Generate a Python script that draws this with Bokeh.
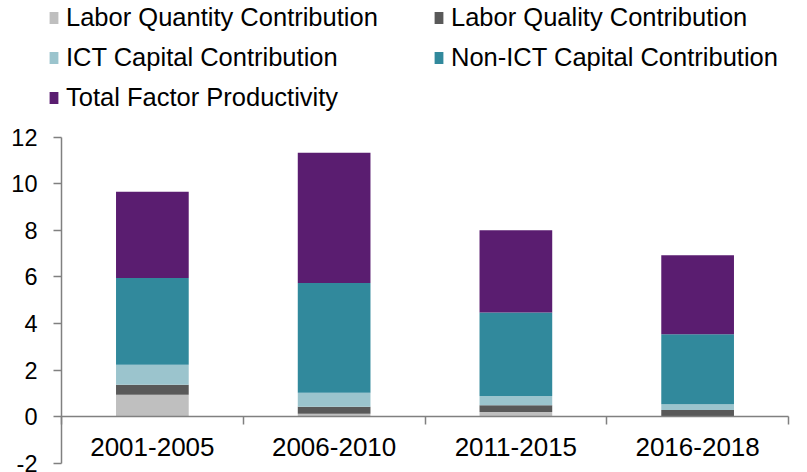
from bokeh.plotting import figure
from bokeh.models import (ColumnDataSource, Legend, LegendItem, LinearAxis,
                          Range1d, FixedTicker)
from bokeh.embed import file_html
from bokeh.resources import INLINE

periods = ["2001-2005", "2006-2010", "2011-2015", "2016-2018"]
labor_quantity = [0.94, 0.13, 0.20, 0.02]
labor_quality = [0.43, 0.30, 0.29, 0.27]
ict_capital = [0.86, 0.60, 0.40, 0.25]
non_ict_capital = [3.73, 4.71, 3.58, 3.00]
tfp = [3.70, 5.59, 3.53, 3.39]
y_ticks = [-2, 0, 2, 4, 6, 8, 10, 12]

series_names = ["Labor Quantity Contribution", "Labor Quality Contribution",
                "ICT Capital Contribution", "Non-ICT Capital Contribution",
                "Total Factor Productivity"]
keys = ["lquant", "lqual", "ict", "nonict", "tfp"]
colors = ["#BFBFBF", "#595959", "#9BC4CD", "#31899C", "#5A1D70"]

n = len(periods)
centers = [i + 0.5 for i in range(n)]
y_lo, y_hi = y_ticks[0], y_ticks[-1]

source = ColumnDataSource(dict(x=centers, period=periods, lquant=labor_quantity,
                               lqual=labor_quality, ict=ict_capital,
                               nonict=non_ict_capital, tfp=tfp))

FONT = "Liberation Sans"
GRAY = "#808080"

# layout (pixels): axes box inside a full-canvas frame
W, H = 798, 472
AX_L, AX_R, AX_T, AX_B = 61.0, 788.0, 136.7, 462.8
xs = (AX_R - AX_L) / n
ys = (AX_B - AX_T) / (y_hi - y_lo)
x_range = Range1d(-AX_L / xs, n + (W - AX_R) / xs)
y_range = Range1d(y_lo - (H - AX_B) / ys, y_hi + AX_T / ys)

p = figure(x_range=x_range, y_range=y_range, width=W, height=H,
           output_backend="svg", toolbar_location=None,
           min_border_left=0, min_border_right=0, min_border_top=0,
           min_border_bottom=0)
p.outline_line_color = None
p.xgrid.visible = False
p.ygrid.visible = False

renderers = p.vbar_stack(keys, x="x", width=0.4, color=colors,
                         line_color=None, source=source)

# y axis at x=0
ya = p.yaxis[0]
ya.fixed_location = 0
ya.bounds = (y_lo, y_hi)
ya.ticker = FixedTicker(ticks=y_ticks)
ya.major_label_overrides = {t: str(t) for t in y_ticks}
ya.major_tick_out = 8
ya.major_tick_in = 0
ya.minor_tick_line_color = None
ya.axis_line_color = GRAY
ya.axis_line_width = 1.5
ya.major_tick_line_color = GRAY
ya.major_tick_line_width = 1.5
ya.major_label_text_font = FONT
ya.major_label_text_font_size = "23.5px"
ya.major_label_text_color = "black"
ya.major_label_standoff = 16

# boundary ticks axis at y=0 (default axis)
bx = p.xaxis[0]
bx.fixed_location = 0
bx.bounds = (0, n)
bx.ticker = FixedTicker(ticks=list(range(n + 1)))
bx.major_label_text_color = None
bx.major_label_text_font_size = "1px"
bx.minor_tick_line_color = None
bx.major_tick_out = 8
bx.major_tick_in = 0
bx.axis_line_color = GRAY
bx.axis_line_width = 1.5
bx.major_tick_line_color = GRAY
bx.major_tick_line_width = 1.5

# category labels axis at y=0
xa = LinearAxis(ticker=FixedTicker(ticks=centers), fixed_location=0,
                major_label_overrides={c: lab for c, lab in zip(centers, periods)})
xa.axis_line_color = None
xa.major_tick_line_color = None
xa.minor_tick_line_color = None
xa.major_tick_out = 0
xa.major_tick_in = 0
xa.major_label_text_font = FONT
xa.major_label_text_font_size = "26px"
xa.major_label_text_color = "black"
xa.major_label_standoff = 21
p.add_layout(xa, "below")

legend = Legend(items=[LegendItem(label=nm, renderers=[r])
                       for nm, r in zip(series_names, renderers)],
                location=(48, 360), orientation="horizontal", ncols=2)
legend.glyph_width = 11
legend.glyph_height = 15
legend.label_text_font = FONT
legend.label_text_font_size = "25.5px"
legend.label_text_color = "black"
legend.label_standoff = 7
legend.spacing = 11
legend.padding = 0
legend.margin = 0
legend.label_width = 356
legend.label_height = 28
legend.border_line_color = None
legend.background_fill_alpha = 0
p.add_layout(legend)

open("out.html", "w").write(file_html(p, INLINE))
